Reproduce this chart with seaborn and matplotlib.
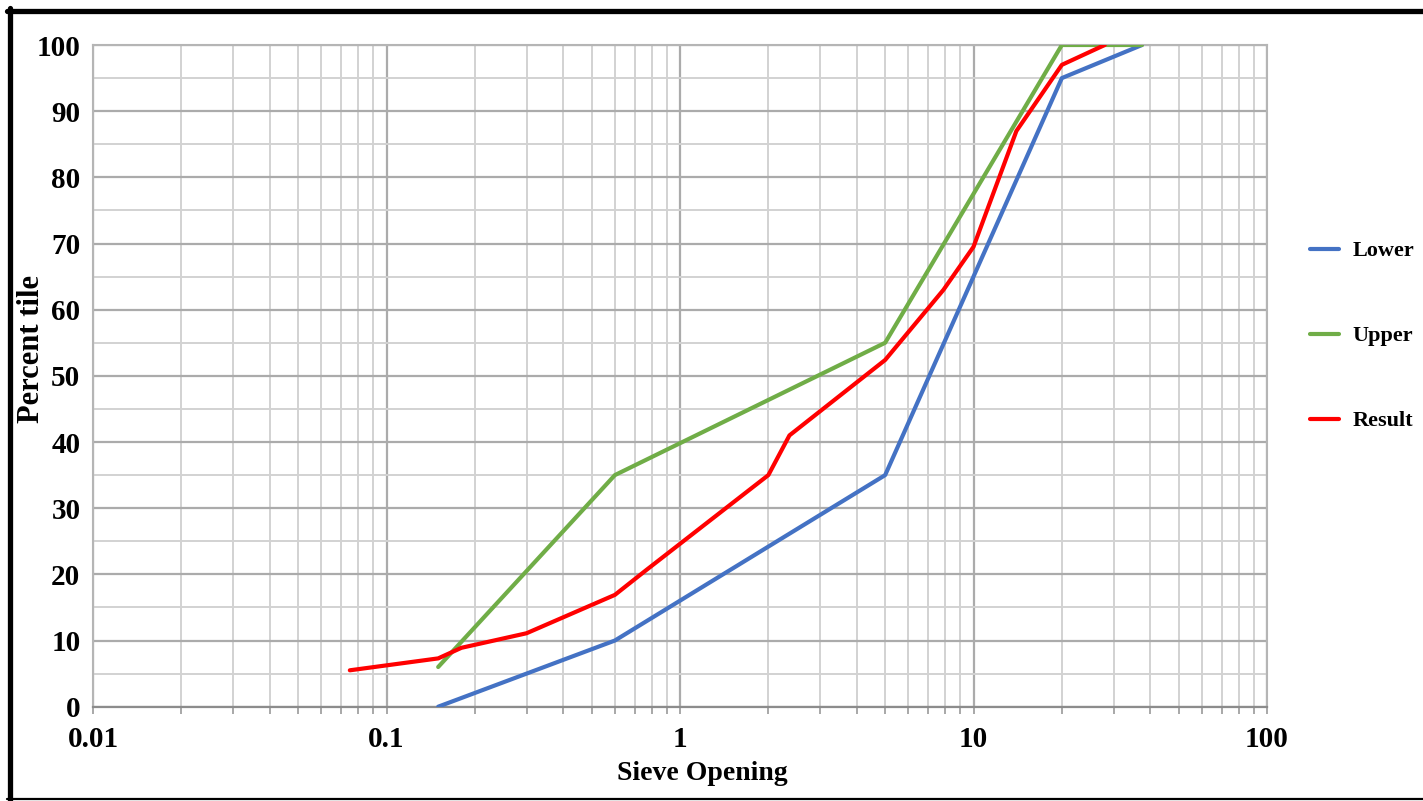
import numpy as np
import pandas as pd
import matplotlib
matplotlib.use("Agg")
import matplotlib.pyplot as plt
from matplotlib.lines import Line2D
from matplotlib.ticker import LogLocator, FixedLocator, NullFormatter, FixedFormatter
import seaborn as sns

# ---- data ----
lower_size = [0.15, 0.6, 5, 20, 37.5]
lower_pass = [0, 10, 35, 95, 100]
upper_size = [0.15, 0.6, 5, 20, 37.5]
upper_pass = [6, 35, 55, 100, 100]
result_size = [0.075, 0.15, 0.18, 0.3, 0.6, 0.77, 2, 2.36, 5, 7.9, 10, 14, 20, 28]
result_pass = [5.5, 7.3, 8.9, 11.1, 16.9, 20.7, 35, 41, 52.4, 63, 69.5, 87, 97, 100]
series_names = ["Lower", "Upper", "Result"]
x_ticks = [0.01, 0.1, 1, 10, 100]
x_tick_labels = ["0.01", "0.1", "1", "10", "100"]
y_ticks = [0, 10, 20, 30, 40, 50, 60, 70, 80, 90, 100]

df = pd.concat([
    pd.DataFrame({"size": lower_size, "pass": lower_pass, "series": "Lower"}),
    pd.DataFrame({"size": upper_size, "pass": upper_pass, "series": "Upper"}),
    pd.DataFrame({"size": result_size, "pass": result_pass, "series": "Result"}),
], ignore_index=True)

sns.set_theme(style="white")
plt.rcParams["font.family"] = ["Liberation Serif", "DejaVu Serif"]
plt.rcParams["text.color"] = "black"
plt.rcParams["axes.labelcolor"] = "black"
plt.rcParams["xtick.color"] = "black"
plt.rcParams["ytick.color"] = "black"

W, H = 1423, 801
fig = plt.figure(figsize=(W / 100, H / 100), dpi=100)
ax = fig.add_axes([93 / W, 1 - 706.7 / H, (1267 - 93) / W, (706.7 - 45) / H])

palette = {"Lower": "#4472C4", "Upper": "#70AD47", "Result": "#FF0000"}
sns.lineplot(data=df, x="size", y="pass", hue="series", hue_order=series_names,
             palette=palette, sort=False, estimator=None, linewidth=3.0, ax=ax,
             legend=True, zorder=3)

ax.set_xscale("log")
ax.set_xlim(0.01, 100)
ax.set_ylim(0, 100)

ax.xaxis.set_major_locator(FixedLocator(x_ticks))
ax.xaxis.set_major_formatter(FixedFormatter(x_tick_labels))
ax.xaxis.set_minor_locator(LogLocator(base=10, subs=np.arange(2, 10)))
ax.xaxis.set_minor_formatter(NullFormatter())
ax.yaxis.set_major_locator(FixedLocator(y_ticks))
ax.yaxis.set_minor_locator(FixedLocator([5, 15, 25, 35, 45, 55, 65, 75, 85, 95]))

ax.grid(which="major", color="#ABABAB", linewidth=1.6, zorder=0)
ax.grid(which="minor", color="#D2D2D2", linewidth=1.4, zorder=0)
ax.set_axisbelow(True)

for s in ["left", "right", "top"]:
    ax.spines[s].set_color("#B5B5B5")
    ax.spines[s].set_linewidth(1.5)
ax.spines["bottom"].set_color("#8C8C8C")
ax.spines["bottom"].set_linewidth(1.6)

ax.tick_params(axis="x", which="both", bottom=True, direction="out", color="#9A9A9A",
               length=5, width=1.2, pad=9, labelsize=21, labelcolor="black")
ax.tick_params(axis="y", which="both", left=False, length=0, pad=9, labelsize=21,
               labelcolor="black")
for lab in ax.get_xticklabels() + ax.get_yticklabels():
    lab.set_fontweight("bold")

ax.set_xlabel("Sieve Opening", fontsize=20, fontweight="bold", color="black")
ax.set_ylabel("Percent tile", fontsize=22, fontweight="bold", color="black")
ax.xaxis.set_label_coords((702 - 93) / (1267 - 93), -(773 - 706.7) / (706.7 - 45), transform=ax.transAxes)
ax.xaxis.label.set_va("center")
ax.yaxis.set_label_coords(-(93 - 32) / (1267 - 93), (706.7 - 349) / (706.7 - 45), transform=ax.transAxes)
ax.yaxis.label.set_va("center")

# legend outside
handles, labels = ax.get_legend_handles_labels()
ax.get_legend().remove()
leg = fig.legend(handles, labels, loc="center left", bbox_to_anchor=(1310 / W, 1 - 336 / H),
                 frameon=False, borderpad=0, borderaxespad=0, handlelength=1.3,
                 handletextpad=0.6, labelspacing=2.9,
                 prop={"family": "Liberation Serif", "weight": "bold", "size": 16})
for l in leg.get_lines():
    l.set_linewidth(3.0)

# figure border
fig.add_artist(Line2D([9.5 / W, 9.5 / W], [1 - 8 / H, 1 - 800 / H], color="black",
                      linewidth=3.8, transform=fig.transFigure))
fig.add_artist(Line2D([7 / W, 1.0], [1 - 10.5 / H, 1 - 10.5 / H], color="black",
                      linewidth=3.8, transform=fig.transFigure))
fig.add_artist(Line2D([7 / W, 1.0], [1 - 799 / H, 1 - 799 / H], color="black",
                      linewidth=1.6, transform=fig.transFigure))

fig.savefig("out.png", dpi=100)
